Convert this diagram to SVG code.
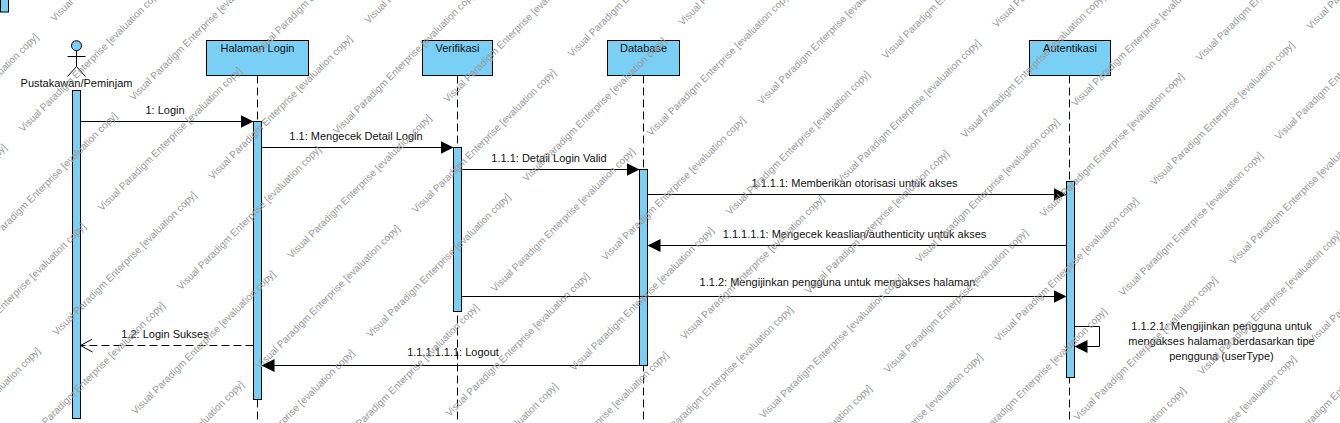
<svg xmlns="http://www.w3.org/2000/svg" width="1340" height="423" viewBox="0 0 1340 423">
<style>
text{font-family:"Liberation Sans",Arial,sans-serif;font-size:11px;fill:#111}
.c{text-anchor:middle}
.box{fill:#7acff5;stroke:#000;stroke-width:1}
.life{stroke:#000;stroke-width:1;stroke-dasharray:8 4;fill:none}
.msg{stroke:#000;stroke-width:1;fill:none}
.ret{stroke:#000;stroke-width:1;fill:none;stroke-dasharray:8 4}
.wm text{font-size:10px;fill:#999}
</style>
<defs>
<marker id="solid" markerUnits="userSpaceOnUse" markerWidth="14" markerHeight="14" refX="13" refY="7" orient="auto"><path d="M0,0.5 L13,7 L0,13.5 Z" fill="#000"/></marker>
<marker id="open" markerUnits="userSpaceOnUse" markerWidth="13" markerHeight="14" refX="12.5" refY="7" orient="auto"><path d="M0.5,0.5 L12.5,7 L0.5,13.5" fill="none" stroke="#000" stroke-width="1"/></marker>
</defs>
<rect class="box" x="0.5" y="-2" width="8" height="14"/>
<g id="connectors-lifelines">
<line class="life" x1="257.5" y1="75.5" x2="257.5" y2="423"/>
<line class="life" x1="457.5" y1="75.5" x2="457.5" y2="423"/>
<line class="life" x1="643.5" y1="75.5" x2="643.5" y2="423"/>
<line class="life" x1="1069.5" y1="75.5" x2="1069.5" y2="423"/>
</g>
<g id="actor">
<circle class="box" cx="76.5" cy="45.7" r="5"/>
<path class="msg" d="M76.5,50.7V66.5M67.5,56.5H85.5M67.5,76.5L76.5,66.5L85.5,76.5"/>
<text class="c" x="76.5" y="87">Pustakawan/Peminjam</text>
<rect class="box" x="72.5" y="90.5" width="8" height="328"/>
</g>
<g id="halaman-login">
<rect class="box" x="206.5" y="40.5" width="102" height="35"/>
<text class="c" x="257.5" y="52">Halaman Login</text>
<rect class="box" x="253.5" y="121.5" width="8" height="278"/>
</g>
<g id="verifikasi">
<rect class="box" x="422.5" y="40.5" width="70" height="35"/>
<text class="c" x="457.5" y="52">Verifikasi</text>
<rect class="box" x="453.5" y="147.5" width="8" height="164"/>
</g>
<g id="database">
<rect class="box" x="607.5" y="40.5" width="72" height="35"/>
<text class="c" x="643.5" y="52">Database</text>
<rect class="box" x="639.5" y="169.5" width="8" height="196"/>
</g>
<g id="autentikasi">
<rect class="box" x="1029.5" y="40.5" width="81" height="35"/>
<text class="c" x="1070" y="52">Autentikasi</text>
<rect class="box" x="1066.5" y="181.5" width="8" height="196"/>
</g>
<g id="connectors">
<line class="msg" x1="80.5" y1="121.5" x2="253.5" y2="121.5" marker-end="url(#solid)"/>
<line class="msg" x1="261.5" y1="147.5" x2="453.5" y2="147.5" marker-end="url(#solid)"/>
<line class="msg" x1="461.5" y1="169.5" x2="639.5" y2="169.5" marker-end="url(#solid)"/>
<line class="msg" x1="647.5" y1="194.5" x2="1066.5" y2="194.5" marker-end="url(#solid)"/>
<line class="msg" x1="1066.5" y1="245.5" x2="647.5" y2="245.5" marker-end="url(#solid)"/>
<line class="msg" x1="461.5" y1="296.5" x2="1066.5" y2="296.5" marker-end="url(#solid)"/>
<line class="ret" x1="253.5" y1="345.5" x2="80.5" y2="345.5" marker-end="url(#open)"/>
<line class="msg" x1="639.5" y1="365.5" x2="261.5" y2="365.5" marker-end="url(#solid)"/>
<path class="msg" d="M1074.5,326.5H1099.5V346.5H1074.5" marker-end="url(#solid)"/>
</g>
<g id="labels">
<text class="c" x="165" y="114">1: Login</text>
<text class="c" x="356" y="140">1.1: Mengecek Detail Login</text>
<text class="c" x="549" y="162">1.1.1: Detail Login Valid</text>
<text class="c" x="854.5" y="187">1.1.1.1: Memberikan otorisasi untuk akses</text>
<text class="c" x="854.5" y="238">1.1.1.1.1: Mengecek keaslian/authenticity untuk akses</text>
<text class="c" x="837.5" y="286">1.1.2: Mengijinkan pengguna untuk mengakses halaman</text>
<text class="c" x="165" y="338">1.2: Login Sukses</text>
<text class="c" x="453" y="356">1.1.1.1.1.1: Logout</text>
<text class="c" x="1221.5" y="330">1.1.2.1: Mengijinkan pengguna untuk</text>
<text class="c" x="1221.5" y="345">mengakses halaman berdasarkan tipe</text>
<text class="c" x="1221.5" y="360">pengguna (userType)</text>
</g>
<g class="wm" transform="translate(2.5,1)">
<text transform="translate(52,21)rotate(-45)">Visual Paradigm Enterprise [evaluation copy]</text>
<text transform="translate(-104,177)rotate(-45)">Visual Paradigm Enterprise [evaluation copy]</text>
<text transform="translate(-135.5,287.5)rotate(-45)">Visual Paradigm Enterprise [evaluation copy]</text>
<text transform="translate(20.5,131.5)rotate(-45)">Visual Paradigm Enterprise [evaluation copy]</text>
<text transform="translate(131,100)rotate(-45)">Visual Paradigm Enterprise [evaluation copy]</text>
<text transform="translate(-25,256)rotate(-45)">Visual Paradigm Enterprise [evaluation copy]</text>
<text transform="translate(-56.5,366.5)rotate(-45)">Visual Paradigm Enterprise [evaluation copy]</text>
<text transform="translate(99.5,210.5)rotate(-45)">Visual Paradigm Enterprise [evaluation copy]</text>
<text transform="translate(255.5,54.5)rotate(-45)">Visual Paradigm Enterprise [evaluation copy]</text>
<text transform="translate(-102,491)rotate(-45)">Visual Paradigm Enterprise [evaluation copy]</text>
<text transform="translate(54,335)rotate(-45)">Visual Paradigm Enterprise [evaluation copy]</text>
<text transform="translate(210,179)rotate(-45)">Visual Paradigm Enterprise [evaluation copy]</text>
<text transform="translate(366,23)rotate(-45)">Visual Paradigm Enterprise [evaluation copy]</text>
<text transform="translate(22.5,445.5)rotate(-45)">Visual Paradigm Enterprise [evaluation copy]</text>
<text transform="translate(178.5,289.5)rotate(-45)">Visual Paradigm Enterprise [evaluation copy]</text>
<text transform="translate(334.5,133.5)rotate(-45)">Visual Paradigm Enterprise [evaluation copy]</text>
<text transform="translate(133,414)rotate(-45)">Visual Paradigm Enterprise [evaluation copy]</text>
<text transform="translate(289,258)rotate(-45)">Visual Paradigm Enterprise [evaluation copy]</text>
<text transform="translate(445,102)rotate(-45)">Visual Paradigm Enterprise [evaluation copy]</text>
<text transform="translate(101.5,524.5)rotate(-45)">Visual Paradigm Enterprise [evaluation copy]</text>
<text transform="translate(257.5,368.5)rotate(-45)">Visual Paradigm Enterprise [evaluation copy]</text>
<text transform="translate(413.5,212.5)rotate(-45)">Visual Paradigm Enterprise [evaluation copy]</text>
<text transform="translate(569.5,56.5)rotate(-45)">Visual Paradigm Enterprise [evaluation copy]</text>
<text transform="translate(212,493)rotate(-45)">Visual Paradigm Enterprise [evaluation copy]</text>
<text transform="translate(368,337)rotate(-45)">Visual Paradigm Enterprise [evaluation copy]</text>
<text transform="translate(524,181)rotate(-45)">Visual Paradigm Enterprise [evaluation copy]</text>
<text transform="translate(680,25)rotate(-45)">Visual Paradigm Enterprise [evaluation copy]</text>
<text transform="translate(336.5,447.5)rotate(-45)">Visual Paradigm Enterprise [evaluation copy]</text>
<text transform="translate(492.5,291.5)rotate(-45)">Visual Paradigm Enterprise [evaluation copy]</text>
<text transform="translate(648.5,135.5)rotate(-45)">Visual Paradigm Enterprise [evaluation copy]</text>
<text transform="translate(447,416)rotate(-45)">Visual Paradigm Enterprise [evaluation copy]</text>
<text transform="translate(603,260)rotate(-45)">Visual Paradigm Enterprise [evaluation copy]</text>
<text transform="translate(759,104)rotate(-45)">Visual Paradigm Enterprise [evaluation copy]</text>
<text transform="translate(415.5,526.5)rotate(-45)">Visual Paradigm Enterprise [evaluation copy]</text>
<text transform="translate(571.5,370.5)rotate(-45)">Visual Paradigm Enterprise [evaluation copy]</text>
<text transform="translate(727.5,214.5)rotate(-45)">Visual Paradigm Enterprise [evaluation copy]</text>
<text transform="translate(883.5,58.5)rotate(-45)">Visual Paradigm Enterprise [evaluation copy]</text>
<text transform="translate(526,495)rotate(-45)">Visual Paradigm Enterprise [evaluation copy]</text>
<text transform="translate(682,339)rotate(-45)">Visual Paradigm Enterprise [evaluation copy]</text>
<text transform="translate(838,183)rotate(-45)">Visual Paradigm Enterprise [evaluation copy]</text>
<text transform="translate(994,27)rotate(-45)">Visual Paradigm Enterprise [evaluation copy]</text>
<text transform="translate(650.5,449.5)rotate(-45)">Visual Paradigm Enterprise [evaluation copy]</text>
<text transform="translate(806.5,293.5)rotate(-45)">Visual Paradigm Enterprise [evaluation copy]</text>
<text transform="translate(962.5,137.5)rotate(-45)">Visual Paradigm Enterprise [evaluation copy]</text>
<text transform="translate(761,418)rotate(-45)">Visual Paradigm Enterprise [evaluation copy]</text>
<text transform="translate(917,262)rotate(-45)">Visual Paradigm Enterprise [evaluation copy]</text>
<text transform="translate(1073,106)rotate(-45)">Visual Paradigm Enterprise [evaluation copy]</text>
<text transform="translate(729.5,528.5)rotate(-45)">Visual Paradigm Enterprise [evaluation copy]</text>
<text transform="translate(885.5,372.5)rotate(-45)">Visual Paradigm Enterprise [evaluation copy]</text>
<text transform="translate(1041.5,216.5)rotate(-45)">Visual Paradigm Enterprise [evaluation copy]</text>
<text transform="translate(1197.5,60.5)rotate(-45)">Visual Paradigm Enterprise [evaluation copy]</text>
<text transform="translate(840,497)rotate(-45)">Visual Paradigm Enterprise [evaluation copy]</text>
<text transform="translate(996,341)rotate(-45)">Visual Paradigm Enterprise [evaluation copy]</text>
<text transform="translate(1152,185)rotate(-45)">Visual Paradigm Enterprise [evaluation copy]</text>
<text transform="translate(1308,29)rotate(-45)">Visual Paradigm Enterprise [evaluation copy]</text>
<text transform="translate(964.5,451.5)rotate(-45)">Visual Paradigm Enterprise [evaluation copy]</text>
<text transform="translate(1120.5,295.5)rotate(-45)">Visual Paradigm Enterprise [evaluation copy]</text>
<text transform="translate(1276.5,139.5)rotate(-45)">Visual Paradigm Enterprise [evaluation copy]</text>
<text transform="translate(1075,420)rotate(-45)">Visual Paradigm Enterprise [evaluation copy]</text>
<text transform="translate(1231,264)rotate(-45)">Visual Paradigm Enterprise [evaluation copy]</text>
<text transform="translate(1043.5,530.5)rotate(-45)">Visual Paradigm Enterprise [evaluation copy]</text>
<text transform="translate(1199.5,374.5)rotate(-45)">Visual Paradigm Enterprise [evaluation copy]</text>
<text transform="translate(1154,499)rotate(-45)">Visual Paradigm Enterprise [evaluation copy]</text>
<text transform="translate(1310,343)rotate(-45)">Visual Paradigm Enterprise [evaluation copy]</text>
<text transform="translate(1278.5,453.5)rotate(-45)">Visual Paradigm Enterprise [evaluation copy]</text>
</g>
</svg>
